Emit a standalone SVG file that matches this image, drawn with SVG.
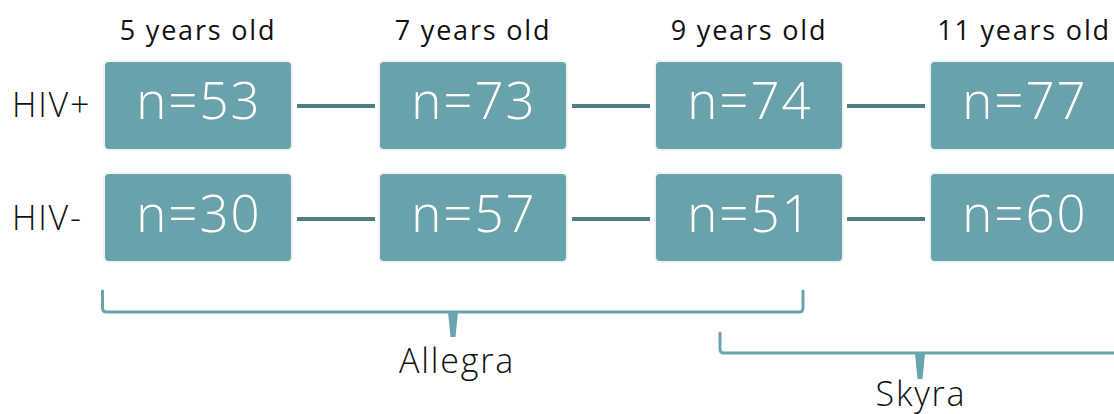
<svg xmlns="http://www.w3.org/2000/svg" width="1114" height="414" viewBox="0 0 1114 414">
<style>
.box{fill:#69a2ab;stroke:#eef3f3;stroke-width:2}
.n{font-family:"Open Sans","Liberation Sans",sans-serif;font-weight:300;font-size:51px;fill:#ffffff;text-anchor:middle;letter-spacing:2px}
.lab{font-family:"Open Sans","Liberation Sans",sans-serif;font-weight:400;font-size:27px;fill:#111;text-anchor:middle;letter-spacing:1.8px}
.row{font-family:"Open Sans","Liberation Sans",sans-serif;font-weight:300;font-size:34px;fill:#111;letter-spacing:1.8px}
.mid{text-anchor:middle}
.con{stroke:#4f7f86;stroke-width:4;fill:none}
.br{stroke:#6aa5ae;stroke-width:3;fill:none;stroke-linecap:round}
.tick{fill:#6aa5ae}
</style>
<rect width="1114" height="414" fill="#ffffff"/>
<g id="col-labels">
<text class="lab" x="198" y="40">5 years old</text>
<text class="lab" x="473" y="40">7 years old</text>
<text class="lab" x="749" y="40">9 years old</text>
<text class="lab" x="1024" y="40">11 years old</text>
</g>
<g id="row-labels">
<text class="row" x="12" y="117">HIV+</text>
<text class="row" x="12" y="230">HIV-</text>
</g>
<g id="connectors">
<line class="con" x1="297" y1="106" x2="375" y2="106"/>
<line class="con" x1="572" y1="106" x2="650" y2="106"/>
<line class="con" x1="847" y1="106" x2="925" y2="106"/>
<line class="con" x1="297" y1="219" x2="375" y2="219"/>
<line class="con" x1="572" y1="219" x2="650" y2="219"/>
<line class="con" x1="847" y1="219" x2="925" y2="219"/>
</g>
<g id="hiv-pos-5"><rect class="box" x="104" y="61" width="188" height="89" rx="5"/><text class="n" x="199" y="119">n=53</text></g>
<g id="hiv-pos-7"><rect class="box" x="379" y="61" width="188" height="89" rx="5"/><text class="n" x="474" y="119">n=73</text></g>
<g id="hiv-pos-9"><rect class="box" x="655" y="61" width="188" height="89" rx="5"/><text class="n" x="750" y="119">n=74</text></g>
<g id="hiv-pos-11"><rect class="box" x="930" y="61" width="188" height="89" rx="5"/><text class="n" x="1025" y="119">n=77</text></g>
<g id="hiv-neg-5"><rect class="box" x="104" y="173" width="188" height="89" rx="5"/><text class="n" x="199" y="232">n=30</text></g>
<g id="hiv-neg-7"><rect class="box" x="379" y="173" width="188" height="89" rx="5"/><text class="n" x="474" y="232">n=57</text></g>
<g id="hiv-neg-9"><rect class="box" x="655" y="173" width="188" height="89" rx="5"/><text class="n" x="750" y="232">n=51</text></g>
<g id="hiv-neg-11"><rect class="box" x="930" y="173" width="188" height="89" rx="5"/><text class="n" x="1025" y="232">n=60</text></g>
<g id="allegra">
<path class="br" d="M102.5 291 V308 Q102.5 312 106.5 312 H799 Q803 312 803 308 V291"/>
<path class="tick" d="M448 312 Q453 314 458 312 L455.5 337 H450.5 Z"/>
<text class="row mid" x="457" y="373">Allegra</text>
</g>
<g id="skyra">
<path class="br" d="M720 333 V349 Q720 353 724 353 H1130"/>
<path class="tick" d="M915 353 Q920 355 925 353 L922.5 379 H917.5 Z"/>
<text class="row mid" x="921" y="406">Skyra</text>
</g>
</svg>
